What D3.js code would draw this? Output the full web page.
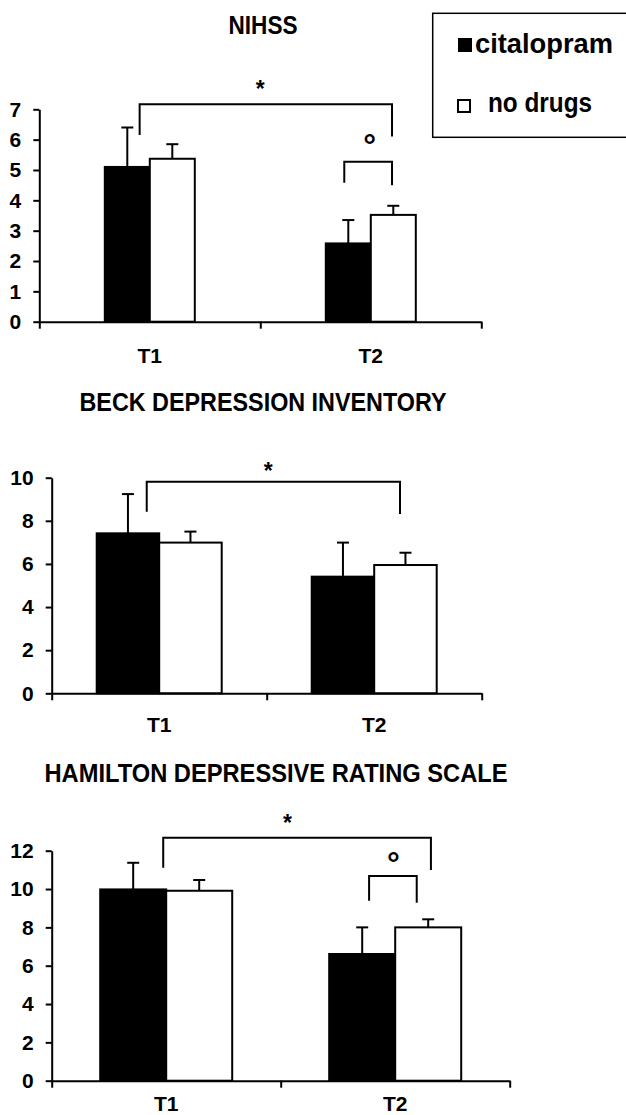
<!DOCTYPE html>
<html>
<head>
<meta charset="utf-8">
<script src="https://cdn.jsdelivr.net/npm/d3@7"></script>
<style>
	body{margin:0;background:#fff}
	text{font-family:Arial,"Liberation Sans",sans-serif;font-weight:bold;fill:#000}
	.axis path,.axis line{stroke:#000;stroke-width:2px}
	.axis text{font-size:21px}
</style>
</head>
<body>
<div id="chart"></div>
<script>
// time points and groups
var timepoints=["T1","T2"]
var groups=["citalopram","no drugs"]

// NIHSS: means and upper error (SEM) per time point
var nihssCit=[5.1,2.58]
var nihssCitErr=[1.3,0.77]
var nihssNone=[5.37,3.52]
var nihssNoneErr=[0.48,0.3]
var nihssTicks=[0,1,2,3,4,5,6,7]

// Beck depression inventory
var bdiCit=[7.42,5.41]
var bdiCitErr=[1.82,1.58]
var bdiNone=[6.99,5.95]
var bdiNoneErr=[0.51,0.57]
var bdiTicks=[0,2,4,6,8,10]

// Hamilton depressive rating scale
var hdrsCit=[9.98,6.61]
var hdrsCitErr=[1.39,1.39]
var hdrsNone=[9.91,8.0]
var hdrsNoneErr=[0.56,0.42]
var hdrsTicks=[0,2,4,6,8,10,12]

// significance brackets: position 0 = T1 centre, 1 = T2 centre; heights in scale units
var nihssBrackets=[{from:-0.046,to:1.096,y:7.17,l:6.15,r:6.1},{from:0.88,to:1.096,y:5.27,l:4.58,r:4.5}]
var nihssMarks=[{t:"*",p:0.5,y:7.86},{t:"°",p:0.995,y:6.1}]
var bdiBrackets=[{from:-0.058,to:1.12,y:9.81,l:8.42,r:8.32}]
var bdiMarks=[{t:"*",p:0.507,y:10.59}]
var hdrsBrackets=[{from:-0.013,to:1.156,y:12.68,l:11.11,r:10.99},{from:0.886,to:1.094,y:10.68,l:9.39,r:9.29}]
var hdrsMarks=[{t:"*",p:0.53,y:13.77},{t:"°",p:0.992,y:11.77}]

var panels=[
	{title:"NIHSS",tx:263,ty:33.5,tw:69,x0:39.3,x1:481.3,base:321.7,top:109.3,max:7,barW:45,lab:41,
		cit:nihssCit,citErr:nihssCitErr,none:nihssNone,noneErr:nihssNoneErr,ticks:nihssTicks,br:nihssBrackets,marks:nihssMarks},
	{title:"BECK DEPRESSION INVENTORY",tx:263,ty:410.7,tw:367,x0:51.7,x1:481.7,base:693.3,top:477.7,max:10,barW:62.5,lab:39,
		cit:bdiCit,citErr:bdiCitErr,none:bdiNone,noneErr:bdiNoneErr,ticks:bdiTicks,br:bdiBrackets,marks:bdiMarks},
	{title:"HAMILTON DEPRESSIVE RATING SCALE",tx:276,ty:782.3,tw:463,x0:51.7,x1:509.7,base:1080.7,top:850.7,max:12,barW:66,lab:30,
		cit:hdrsCit,citErr:hdrsCitErr,none:hdrsNone,noneErr:hdrsNoneErr,ticks:hdrsTicks,br:hdrsBrackets,marks:hdrsMarks}
]

var svg=d3.select("#chart").append("svg")
	.attr("width",626)
	.attr("height",1115)

panels.forEach(function(p){
	var g=svg.append("g")

	g.append("text")
		.attr("x",p.tx)
		.attr("y",p.ty)
		.attr("text-anchor","middle")
		.attr("textLength",p.tw)
		.attr("lengthAdjust","spacingAndGlyphs")
		.style("font-size","25px")
		.text(p.title)

	var x=d3.scaleBand().domain(timepoints).range([p.x0,p.x1])
	var xs=d3.scaleBand().domain(groups).range([0,p.barW*2])
	var y=d3.scaleLinear().domain([0,p.max]).range([p.base,p.top])
	// continuous position between the two time point centres
	var pos=d3.scaleLinear().domain([0,1])
		.range([x("T1")+x.bandwidth()/2,x("T2")+x.bandwidth()/2])

	var rows=[]
	timepoints.forEach(function(t,i){
		rows.push({t:t,g:groups[0],v:p.cit[i],e:p.citErr[i]})
		rows.push({t:t,g:groups[1],v:p.none[i],e:p.noneErr[i]})
	})
	var bx=function(d){return x(d.t)+x.bandwidth()/2-p.barW+xs(d.g)}

	// error bars first, bars drawn on top
	g.selectAll(".err").data(rows).enter().append("line")
		.attr("x1",d=>bx(d)+p.barW/2).attr("x2",d=>bx(d)+p.barW/2)
		.attr("y1",d=>y(d.v)).attr("y2",d=>y(d.v+d.e))
		.attr("stroke","#000").attr("stroke-width",2)
	g.selectAll(".cap").data(rows).enter().append("line")
		.attr("x1",d=>bx(d)+p.barW/2-6).attr("x2",d=>bx(d)+p.barW/2+6)
		.attr("y1",d=>y(d.v+d.e)).attr("y2",d=>y(d.v+d.e))
		.attr("stroke","#000").attr("stroke-width",2)

	g.selectAll(".bar").data(rows).enter().append("rect")
		.attr("x",bx)
		.attr("y",d=>y(d.v))
		.attr("width",p.barW)
		.attr("height",d=>y(0)-y(d.v))
		.attr("fill",d=>d.g==groups[0]?"#000":"#fff")
		.attr("stroke","#000")
		.attr("stroke-width",2)

	// axes
	g.append("g")
		.attr("class","axis")
		.attr("transform","translate("+p.x0+",0)")
		.call(d3.axisLeft(y).tickValues(p.ticks).tickFormat(d3.format("d")).tickSize(6).tickSizeOuter(0).tickPadding(12))

	var xl=d3.scaleLinear().domain([0,2]).range([p.x0,p.x1])
	g.append("g")
		.attr("class","axis")
		.attr("transform","translate(0,"+p.base+")")
		.call(d3.axisBottom(xl).tickValues([0,1,2]).tickFormat("").tickSize(7).tickSizeOuter(0))

	g.selectAll(".xl").data(timepoints).enter().append("text")
		.attr("x",d=>x(d)+x.bandwidth()/2)
		.attr("y",p.base+p.lab)
		.attr("text-anchor","middle")
		.style("font-size","21px")
		.text(d=>d)

	// brackets and significance marks
	g.selectAll(".br").data(p.br).enter().append("path")
		.attr("d",d=>"M"+pos(d.from)+","+y(d.l)+"V"+y(d.y)+"H"+pos(d.to)+"V"+y(d.r))
		.attr("fill","none")
		.attr("stroke","#000")
		.attr("stroke-width",2)

	g.selectAll(".mk").data(p.marks).enter().append("text")
		.attr("x",d=>pos(d.p))
		.attr("y",d=>y(d.y))
		.attr("dy",d=>d.t=="*"?"0.6em":"0.6em")
		.attr("text-anchor","middle")
		.style("font-size",d=>d.t=="*"?"23px":"32px")
		.text(d=>d.t)
})

// legend
var lg=svg.append("g")
lg.append("rect")
	.attr("x",432.7).attr("y",13.3)
	.attr("width",220).attr("height",124)
	.attr("fill","none").attr("stroke","#000").attr("stroke-width",1.5)

var legY=[52.7,111.5]
var legTx=[475,488]
var legW=[138,104]
lg.selectAll(".sw").data(groups).enter().append("rect")
	.attr("x",458)
	.attr("y",(d,i)=>i==0?38:100)
	.attr("width",(d,i)=>i==0?14:12)
	.attr("height",(d,i)=>i==0?14:12)
	.attr("fill",(d,i)=>i==0?"#000":"#fff")
	.attr("stroke","#000")
	.attr("stroke-width",(d,i)=>i==0?0:2)
lg.selectAll(".lt").data(groups).enter().append("text")
	.attr("x",(d,i)=>legTx[i])
	.attr("y",(d,i)=>legY[i])
	.attr("textLength",(d,i)=>legW[i])
	.attr("lengthAdjust","spacingAndGlyphs")
	.style("font-size","28px")
	.text(d=>d)
</script>
</body>
</html>
